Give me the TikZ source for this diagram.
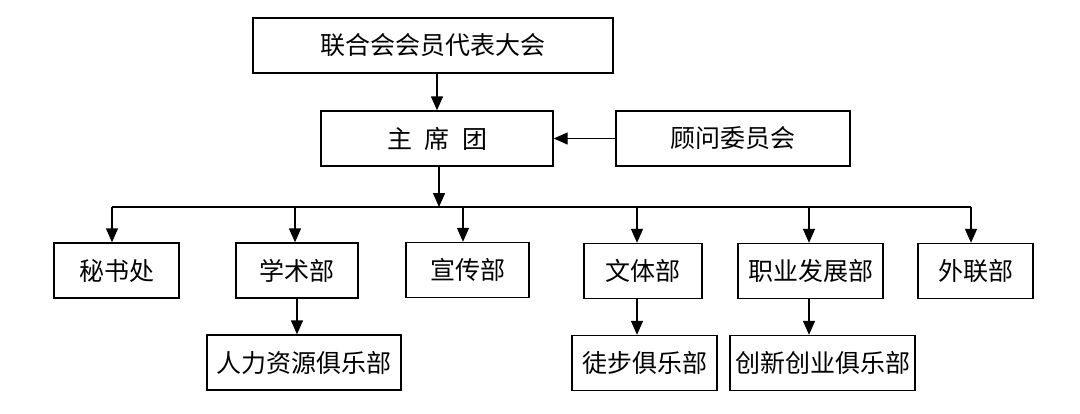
\documentclass[tikz,border=0pt]{standalone}
\usepackage{fontspec}
\setmainfont{Noto Sans CJK SC}
\usetikzlibrary{arrows.meta}
\begin{document}
\begin{tikzpicture}[x=1pt,y=-1pt,
  box/.style={draw,line width=1.4pt,minimum height=55pt,inner sep=0pt,font=\fontsize{25}{28}\selectfont},
  arr/.style={line width=1.4pt,-{Triangle[width=12pt,length=14pt]}},
  ln/.style={line width=1.4pt}]
\useasboundingbox (0,0) rectangle (1080,413);
\node[box,minimum width=360pt] (top) at (433,45.5) {联合会会员代表大会};
\node[box,minimum width=232pt] (zxt) at (437,138.5) {主\hspace{0.5em}席\hspace{0.5em}团};
\node[box,minimum width=234pt] (gw) at (733,138.5) {顾问委员会};
\node[box,minimum width=125pt] (ms) at (116.5,270.5) {秘书处};
\node[box,minimum width=122pt] (xs) at (297,270.5) {学术部};
\node[box,minimum width=123pt] (xc) at (467.5,270) {宣传部};
\node[box,minimum width=118pt] (wt) at (643,271) {文体部};
\node[box,minimum width=145pt] (zy) at (810.5,271) {职业发展部};
\node[box,minimum width=115pt] (wl) at (975.5,271) {外联部};
\node[box,minimum width=194pt] (rl) at (304,362.5) {人力资源俱乐部};
\node[box,minimum width=145pt] (tb) at (644.5,363) {徒步俱乐部};
\node[box,minimum width=185pt] (cx) at (822.5,363) {创新创业俱乐部};
\coordinate (busL) at (112,207);
\coordinate (busR) at (971,207);
\draw[ln] (busL) -- (busR);
\draw[arr] ([xshift=4pt]top.south) -- ([xshift=4pt]top.south |- zxt.north);
\draw[arr] (gw.west) -- (zxt.east);
\draw[arr] ([xshift=2pt]zxt.south) -- ([xshift=2pt]zxt.south |- busL);
\draw[arr] (busL) -- (busL |- ms.north);
\draw[arr] ([xshift=-2pt]xs.north |- busL) -- ([xshift=-2pt]xs.north);
\draw[arr] ([xshift=-4.5pt]xc.north |- busL) -- ([xshift=-4.5pt]xc.north);
\draw[arr] ([xshift=-6pt]wt.north |- busL) -- ([xshift=-6pt]wt.north);
\draw[arr] ([xshift=-1.5pt]zy.north |- busL) -- ([xshift=-1.5pt]zy.north);
\draw[arr] (busR) -- (busR |- wl.north);
\draw[arr] ([xshift=0pt]xs.south) -- (xs.south |- rl.north);
\draw[arr] ([xshift=-6pt]wt.south) -- ([xshift=-6pt]wt.south |- tb.north);
\draw[arr] ([xshift=-1.5pt]zy.south) -- ([xshift=-1.5pt]zy.south |- cx.north);
\end{tikzpicture}
\end{document}
